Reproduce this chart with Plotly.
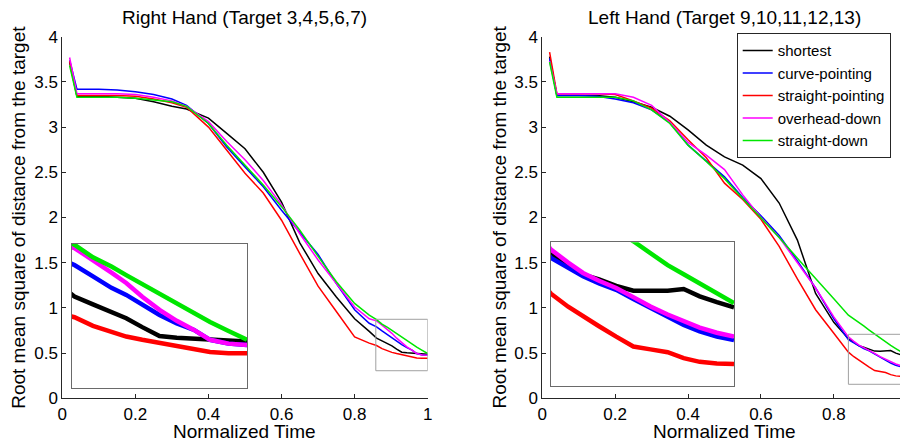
import plotly.graph_objects as go

# ---------------- data ----------------
series_names = ["shortest", "curve-pointing", "straight-pointing", "overhead-down", "straight-down"]
series_colors = ["#000000", "#0000ff", "#ff0000", "#ff00ff", "#00e600"]

# Right hand (targets 3..7)
t_right = [0.02, 0.04, 0.10, 0.15, 0.20, 0.25, 0.30, 0.34, 0.40, 0.45, 0.50, 0.55, 0.60, 0.65,
           0.70, 0.75, 0.80, 0.84, 0.86, 0.875, 0.89, 0.902, 0.915, 0.929, 0.943, 0.957, 0.970, 0.985, 1.00]
right_shortest = [3.72, 3.34, 3.34, 3.33, 3.32, 3.28, 3.23, 3.20, 3.10, 2.93, 2.76, 2.50, 2.17, 1.72,
                  1.38, 1.12, 0.88, 0.74, 0.666, 0.635, 0.605, 0.58, 0.545, 0.51, 0.503, 0.50, 0.497, 0.493, 0.488]
right_curve = [3.74, 3.42, 3.42, 3.41, 3.39, 3.36, 3.31, 3.24, 3.04, 2.78, 2.56, 2.34, 2.08, 1.84,
               1.59, 1.27, 0.98, 0.83, 0.79, 0.745, 0.70, 0.672, 0.635, 0.593, 0.56, 0.534, 0.495, 0.48, 0.475]
right_straight_pt = [3.73, 3.35, 3.35, 3.35, 3.34, 3.31, 3.27, 3.22, 3.00, 2.75, 2.49, 2.27, 1.97, 1.60,
                     1.24, 0.96, 0.68, 0.61, 0.584, 0.55, 0.525, 0.508, 0.495, 0.482, 0.468, 0.455, 0.447, 0.442, 0.442]
right_overhead = [3.77, 3.37, 3.37, 3.37, 3.36, 3.33, 3.29, 3.23, 3.06, 2.84, 2.64, 2.41, 2.14, 1.82,
                  1.53, 1.27, 1.01, 0.88, 0.857, 0.81, 0.76, 0.719, 0.665, 0.613, 0.57, 0.534, 0.495, 0.48, 0.475]
right_straight_dn = [3.68, 3.33, 3.33, 3.33, 3.32, 3.30, 3.28, 3.23, 3.04, 2.80, 2.58, 2.36, 2.12, 1.86,
                     1.57, 1.29, 1.05, 0.92, 0.87, 0.82, 0.784, 0.75, 0.715, 0.679, 0.64, 0.60, 0.565, 0.53, 0.495]

# Left hand (targets 9..13)
t_left = [0.02, 0.04, 0.10, 0.15, 0.20, 0.25, 0.30, 0.35, 0.40, 0.45, 0.50, 0.55, 0.60, 0.65,
          0.70, 0.75, 0.80, 0.84, 0.855, 0.868, 0.882, 0.897, 0.912, 0.927, 0.942, 0.956, 0.970, 0.985, 1.00]
left_shortest = [3.78, 3.35, 3.35, 3.35, 3.33, 3.28, 3.22, 3.12, 2.97, 2.80, 2.67, 2.58, 2.43, 2.16,
                 1.75, 1.16, 0.84, 0.66, 0.62, 0.583, 0.565, 0.54, 0.522, 0.52, 0.522, 0.528, 0.50, 0.478, 0.458]
left_curve = [3.76, 3.35, 3.35, 3.34, 3.31, 3.27, 3.19, 3.05, 2.80, 2.62, 2.45, 2.22, 2.02, 1.80,
              1.52, 1.22, 0.88, 0.648, 0.61, 0.577, 0.55, 0.525, 0.49, 0.455, 0.42, 0.39, 0.365, 0.345, 0.332]
left_straight_pt = [3.83, 3.37, 3.37, 3.37, 3.36, 3.29, 3.21, 3.07, 2.86, 2.66, 2.38, 2.20, 1.98, 1.68,
                    1.32, 0.98, 0.72, 0.51, 0.46, 0.422, 0.385, 0.345, 0.307, 0.296, 0.285, 0.262, 0.248, 0.242, 0.24]
left_overhead = [3.73, 3.37, 3.37, 3.37, 3.37, 3.33, 3.24, 3.05, 2.83, 2.69, 2.53, 2.25, 2.00, 1.78,
                 1.50, 1.22, 0.90, 0.68, 0.63, 0.59, 0.56, 0.532, 0.497, 0.461, 0.43, 0.403, 0.38, 0.36, 0.345]
left_straight_dn = [3.72, 3.33, 3.33, 3.33, 3.33, 3.29, 3.19, 3.04, 2.80, 2.62, 2.43, 2.21, 2.00, 1.78,
                    1.55, 1.33, 1.10, 0.92, 0.88, 0.84, 0.80, 0.755, 0.712, 0.665, 0.62, 0.585, 0.55, 0.51, 0.474]

right_series = [right_shortest, right_curve, right_straight_pt, right_overhead, right_straight_dn]
left_series = [left_shortest, left_curve, left_straight_pt, left_overhead, left_straight_dn]

# zoomed regions shown in the insets
right_zoom_x = [0.858, 1.0]
right_zoom_y = [0.305, 0.874]
left_zoom_x = [0.84, 1.0]
left_zoom_y = [0.155, 0.708]

x_ticks = [0, 0.2, 0.4, 0.6, 0.8, 1]
x_tick_labels = ["0", "0.2", "0.4", "0.6", "0.8", "1"]
y_ticks = [0, 0.5, 1, 1.5, 2, 2.5, 3, 3.5, 4]
y_tick_labels = ["0", "0.5", "1", "1.5", "2", "2.5", "3", "3.5", "4"]

titles = ["Right Hand (Target 3,4,5,6,7)", "Left Hand (Target 9,10,11,12,13)"]
x_title = "Normalized Time"
y_title = "Root mean square of distance from the target"

# ---------------- figure ----------------
# the page body has an 8px margin, so the figure is drawn 8px in from the window corner
OFF = 8
W, H = 908 - OFF, 445 - OFF
FONT = "Liberation Sans, Arial, sans-serif"

def px_x(p):
    return (p - OFF) / W

def px_y(p):
    return (H - (p - OFF)) / H

main_dom_x = [[px_x(62.3), px_x(427.7)], [px_x(542.3), px_x(906.7)]]
main_dom_y = [px_y(398.3), px_y(36.7)]
inset_dom_x = [[px_x(72), px_x(247)], [px_x(551), px_x(734)]]
inset_dom_y = [[px_y(388), px_y(243.7)], [px_y(386), px_y(242.3)]]

fig = go.Figure()

panels = [(t_right, right_series), (t_left, left_series)]
for p, (tt, ser) in enumerate(panels):
    xa = "x" if p == 0 else "x2"
    ya = "y" if p == 0 else "y2"
    for i, vals in enumerate(ser):
        fig.add_trace(go.Scatter(
            x=tt, y=vals, mode="lines", name=series_names[i],
            line=dict(color=series_colors[i], width=1.5),
            xaxis=xa, yaxis=ya, showlegend=(p == 1), legendrank=i + 1))
    xi = "x3" if p == 0 else "x4"
    yi = "y3" if p == 0 else "y4"
    for i, vals in enumerate(ser):
        fig.add_trace(go.Scatter(
            x=tt, y=vals, mode="lines", name=series_names[i],
            line=dict(color=series_colors[i], width=4.5),
            xaxis=xi, yaxis=yi, showlegend=False, hoverinfo="skip"))

axis_common = dict(
    showgrid=False, zeroline=False, showline=True, linecolor="#262626", linewidth=1,
    ticks="inside", ticklen=4, tickcolor="#262626", mirror=False, automargin=False,
    ticklabeloverflow="allow",
    tickfont=dict(family=FONT, size=17, color="#000000"),
)

layout = dict(
    width=W, height=H,
    margin=dict(l=0, r=0, t=0, b=0, autoexpand=False),
    paper_bgcolor="white", plot_bgcolor="white",
    font=dict(family=FONT, size=16, color="#000000"),
    showlegend=True,
    legend=dict(
        x=px_x(736.7), y=px_y(33.3), xanchor="left", yanchor="top",
        bgcolor="white", bordercolor="#262626", borderwidth=1,
        font=dict(family=FONT, size=15, color="#000000"),
        tracegroupgap=0, itemwidth=30,
    ),
)

for p in range(2):
    sx = "" if p == 0 else "2"
    layout["xaxis" + sx] = dict(
        axis_common, domain=main_dom_x[p], range=[0, 1], tickvals=x_ticks,
        ticktext=x_tick_labels, anchor="y" + sx)
    layout["yaxis" + sx] = dict(
        axis_common, domain=main_dom_y, range=[0, 4], tickvals=y_ticks,
        ticktext=y_tick_labels, anchor="x" + sx)

insets = [(right_zoom_x, right_zoom_y), (left_zoom_x, left_zoom_y)]
for p in range(2):
    sx = "3" if p == 0 else "4"
    zx, zy = insets[p]
    inset_axis = dict(showgrid=False, zeroline=False, showline=True, mirror=True,
                      linecolor="#6a6a6a", linewidth=1, ticks="", showticklabels=False,
                      automargin=False)
    layout["xaxis" + sx] = dict(inset_axis, domain=inset_dom_x[p], range=zx, anchor="y" + sx)
    layout["yaxis" + sx] = dict(inset_axis, domain=inset_dom_y[p], range=zy, anchor="x" + sx)

fig.update_layout(**layout)

# small rectangles marking zoomed regions
for p in range(2):
    zx, zy = insets[p]
    fig.add_shape(type="rect", xref="x" if p == 0 else "x2", yref="y" if p == 0 else "y2",
                  x0=zx[0], x1=zx[1], y0=zy[0], y1=zy[1],
                  line=dict(color="#a0a0a0", width=1), fillcolor="rgba(0,0,0,0)", layer="above")

# titles and axis titles
for p in range(2):
    cx = (main_dom_x[p][0] + main_dom_x[p][1]) / 2
    fig.add_annotation(text=titles[p], x=cx, y=px_y(17), xref="paper", yref="paper",
                       xanchor="center", yanchor="middle", showarrow=False,
                       font=dict(family=FONT, size=19, color="#000000"))
    fig.add_annotation(text=x_title, x=cx, y=px_y(431.7), xref="paper", yref="paper",
                       xanchor="center", yanchor="middle", showarrow=False,
                       font=dict(family=FONT, size=19, color="#000000"))
    ytx = px_x(18.3) if p == 0 else px_x(499)
    fig.add_annotation(text=y_title, x=ytx, y=(main_dom_y[0] + main_dom_y[1]) / 2,
                       xref="paper", yref="paper", xanchor="center", yanchor="middle",
                       textangle=-90, showarrow=False,
                       font=dict(family=FONT, size=19, color="#000000"))

fig.write_html("out.html")
